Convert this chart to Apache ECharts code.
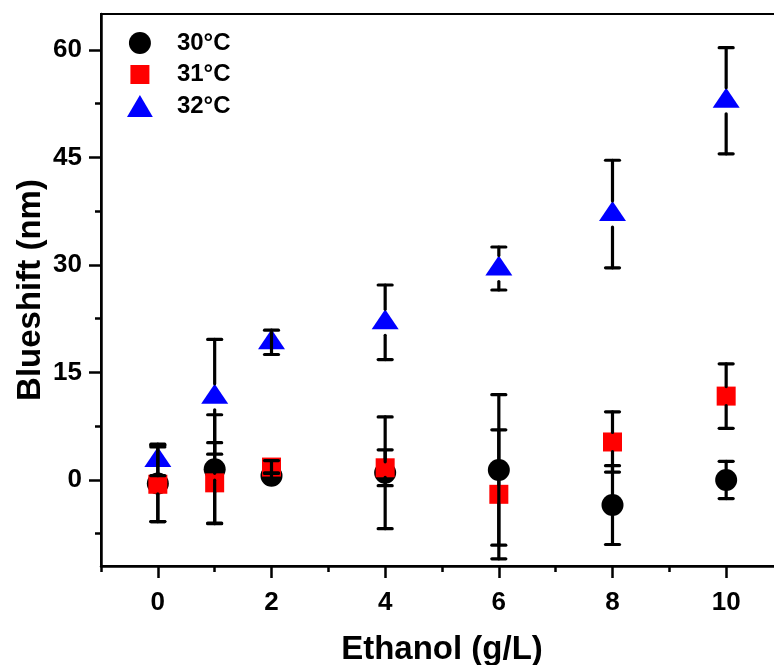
<!DOCTYPE html>
<html><head><meta charset="utf-8">
<script src="https://cdn.jsdelivr.net/npm/echarts@6/dist/echarts.min.js"></script>
<style>html,body{margin:0;padding:0;background:#fff}#c{width:774px;height:665px}</style>
</head><body><div id="c"></div>
<script>
// ---- data ----
const ethanol = [0, 1, 2, 4, 6, 8, 10];
const seriesNames = ['30°C', '31°C', '32°C'];
const blue30 = [-0.5, 1.5, 0.6, 1.0, 1.4, -3.5, 0.0];
const err30 = [5.3, 7.6, 0.4, 7.8, 10.5, 5.5, 2.6];
const blue31 = [-0.6, -0.4, 1.8, 1.7, -2.0, 5.3, 11.7];
const err31 = [5.2, 5.6, 0.9, 2.5, 9.0, 4.2, 4.5];
const blue32 = [2.8, 11.6, 19.2, 22.0, 29.5, 37.1, 52.9];
const err32 = [2.2, 8.0, 1.7, 5.2, 3.0, 7.5, 7.4];
const xMajorTicks = [0, 2, 4, 6, 8, 10];
const xMinorTicks = [-1, 1, 3, 5, 7, 9];
const yMajorTicks = [0, 15, 30, 45, 60];
const yMinorTicks = [-7.5, 7.5, 22.5, 37.5, 52.5];

const FONT = '"Liberation Sans", Arial, sans-serif';
const chart = echarts.init(document.getElementById('c'), null, {renderer: 'canvas'});

function errSeries(vals, errs, half) {
  return {
    type: 'custom', name: 'err', xAxisIndex: 0, yAxisIndex: 0, silent: true,
    data: ethanol.map((x, i) => [x, vals[i], vals[i] - errs[i], vals[i] + errs[i]]),
    encode: {x: 0, y: [1, 2, 3]},
    renderItem(params, api) {
      const x = api.value(0);
      const c = api.coord([x, api.value(1)]);
      const lo = api.coord([x, api.value(2)]);
      const hi = api.coord([x, api.value(3)]);
      const cx = c[0], cy = c[1];
      const w = 7;
      const st = {stroke: '#000', lineWidth: 3.2, lineCap: 'round'};
      const ch = [];
      if (lo[1] - cy > half + 1) ch.push({type: 'line', shape: {x1: cx, y1: cy + half, x2: cx, y2: lo[1]}, style: st});
      if (cy - hi[1] > half + 1) ch.push({type: 'line', shape: {x1: cx, y1: cy - half, x2: cx, y2: hi[1]}, style: st});
      if (lo[1] - cy <= half + 1 && cy - hi[1] <= half + 1) ch.push({type: 'line', shape: {x1: cx, y1: hi[1], x2: cx, y2: lo[1]}, style: st});
      ch.push({type: 'line', shape: {x1: cx - w, y1: lo[1], x2: cx + w, y2: lo[1]}, style: st});
      ch.push({type: 'line', shape: {x1: cx - w, y1: hi[1], x2: cx + w, y2: hi[1]}, style: st});
      return {type: 'group', children: ch};
    },
    z: 3
  };
}

const axisTextStyle = {fontSize: 26, fontWeight: 'bold', color: '#000', fontFamily: FONT};
const nameStyle = {fontSize: 33, fontWeight: 'bold', color: '#000', fontFamily: FONT};

chart.setOption({
  animation: false,
  backgroundColor: '#fff',
  grid: {left: 101, top: 14, width: 682, height: 552, show: true, borderColor: '#000', borderWidth: 2,
         backgroundColor: 'transparent', containLabel: false, outerBoundsMode: 'none'},
  legend: {
    orient: 'vertical', left: 122, top: 26, itemWidth: 64, itemHeight: 22, itemGap: 7.5,
    selectedMode: false,
    textStyle: {fontSize: 24, fontWeight: 'bold', color: '#000', fontFamily: FONT, lineHeight: 22},
    data: [
      {name: seriesNames[0], icon: 'circle'},
      {name: seriesNames[1], icon: 'path://M0,0L0,0M1.5,1.5H20.5V20.5H1.5ZM22,22L22,22'},
      {name: seriesNames[2], icon: 'path://M13.5,0L27,23L0,23Z'}
    ]
  },
  xAxis: [
    {
      type: 'value', min: -1, max: 11, position: 'bottom',
      axisLine: {onZero: false, lineStyle: {color: '#000', width: 2.5}},
      axisTick: {show: true, inside: false, length: 12, lineStyle: {color: '#000', width: 2.5}, customValues: xMajorTicks},
      axisLabel: {customValues: xMajorTicks, margin: 24, ...axisTextStyle},
      splitLine: {show: false},
      name: 'Ethanol (g/L)', nameLocation: 'middle', nameGap: 67, nameMoveOverlap: false, nameTextStyle: nameStyle
    },
    {
      type: 'value', min: -1, max: 11, position: 'bottom',
      axisLine: {show: false, onZero: false},
      axisTick: {show: true, inside: false, length: 6, lineStyle: {color: '#000', width: 2.5}, customValues: xMinorTicks},
      axisLabel: {show: false},
      splitLine: {show: false}
    }
  ],
  yAxis: [
    {
      type: 'value', min: -12, max: 65, position: 'left',
      axisLine: {show: true, onZero: false, lineStyle: {color: '#000', width: 2.5}},
      axisTick: {show: true, inside: false, length: 12, lineStyle: {color: '#000', width: 2.5}, customValues: yMajorTicks},
      axisLabel: {customValues: yMajorTicks, margin: 19, ...axisTextStyle},
      splitLine: {show: false},
      name: 'Blueshift (nm)', nameLocation: 'middle', nameGap: 54, nameMoveOverlap: false, nameTextStyle: nameStyle
    },
    {
      type: 'value', min: -12, max: 65, position: 'left',
      axisLine: {show: false, onZero: false},
      axisTick: {show: true, inside: false, length: 6, lineStyle: {color: '#000', width: 2.5}, customValues: yMinorTicks},
      axisLabel: {show: false},
      splitLine: {show: false}
    }
  ],
  series: [
    {type: 'scatter', name: seriesNames[0], symbol: 'circle', symbolSize: 22, itemStyle: {color: '#000', opacity: 1},
     data: ethanol.map((x, i) => [x, blue30[i]]), z: 2},
    errSeries(blue30, err30, 11),
    {type: 'scatter', name: seriesNames[1], symbol: 'rect', symbolSize: 19, itemStyle: {color: '#ff0000', opacity: 1},
     data: ethanol.map((x, i) => [x, blue31[i]]), z: 2},
    errSeries(blue31, err31, 9.5),
    {type: 'scatter', name: seriesNames[2], symbol: 'triangle', symbolSize: [27, 20], symbolOffset: [0, -3], itemStyle: {color: '#0000ff', opacity: 1},
     data: ethanol.map((x, i) => [x, blue32[i]]), z: 2},
    errSeries(blue32, err32, 13)
  ]
});
</script>
</body></html>
